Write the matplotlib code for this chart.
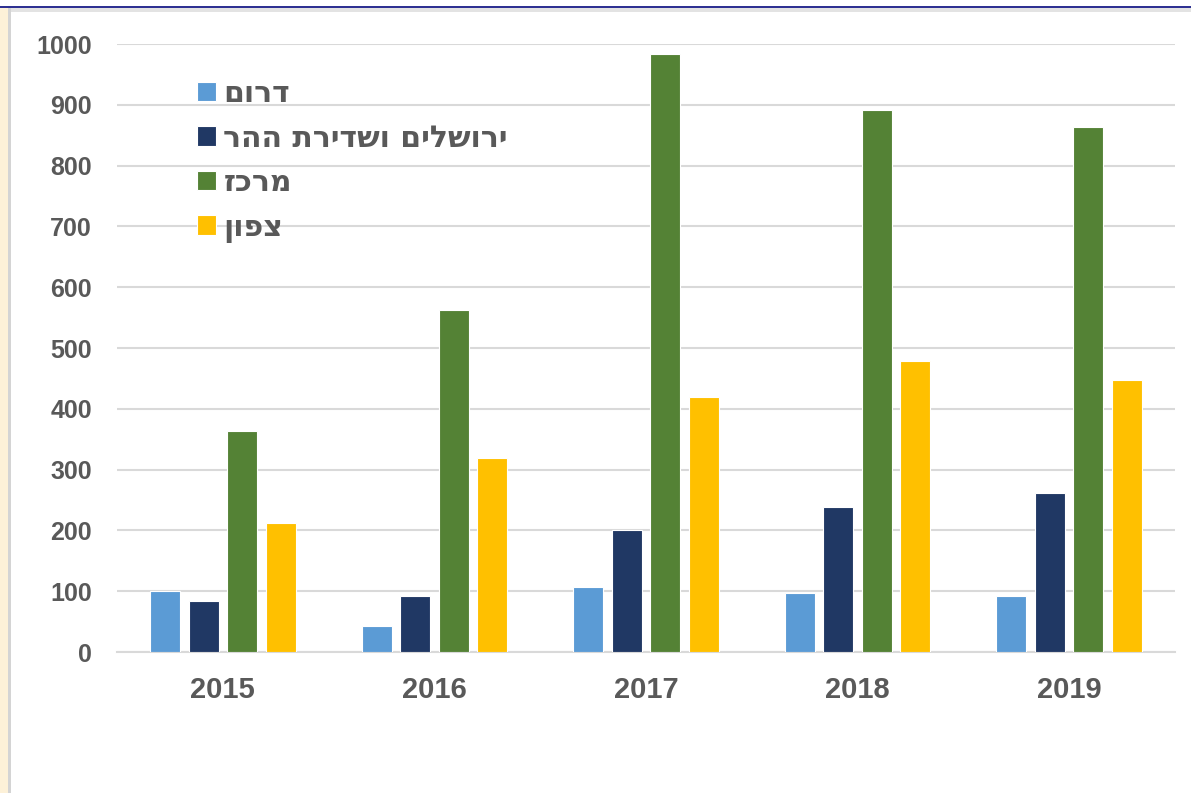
import matplotlib
matplotlib.use("Agg")
import matplotlib.pyplot as plt
from matplotlib.patches import Rectangle
import numpy as np

plt.rcParams['font.family'] = ['Liberation Sans', 'DejaVu Sans']

years = ['2015', '2016', '2017', '2018', '2019']
series_names = ['דרום', 'ירושלים ושדירת ההר', 'מרכז', 'צפון']
south = [100, 43, 107, 97, 92]
jerusalem = [84, 92, 200, 238, 261]
center = [363, 562, 983, 891, 863]
north = [212, 319, 419, 479, 447]
yticks = [0, 100, 200, 300, 400, 500, 600, 700, 800, 900, 1000]

colors = ['#5b9bd5', '#203864', '#548235', '#ffc000']
values = [south, jerusalem, center, north]


def visual(s):
    # matplotlib has no bidi support: reverse for right-to-left display
    return s[::-1]


fig = plt.figure(figsize=(11.91, 7.93), dpi=100, facecolor='white')
ax = fig.add_axes([117 / 1191, 1 - 652 / 793, (1175 - 117) / 1191, (652 - 44) / 793])

# frame decorations
fig.patches.append(Rectangle((0, 0), 8 / 1191, 1 - 8 / 793, transform=fig.transFigure,
                             facecolor='#fdf1d8', edgecolor='none', zorder=0))
fig.patches.append(Rectangle((8 / 1191, 0), 3 / 1191, 1 - 8 / 793, transform=fig.transFigure,
                             facecolor='#d4d4d4', edgecolor='none', zorder=0))
fig.patches.append(Rectangle((11 / 1191, 1 - 12 / 793), 1 - 11 / 1191, 4 / 793, transform=fig.transFigure,
                             facecolor='#e3e3e3', edgecolor='none', zorder=0))
fig.patches.append(Rectangle((0, 1 - 8 / 793), 1, 2 / 793, transform=fig.transFigure,
                             facecolor='#2e3192', edgecolor='none', zorder=0))

x = np.arange(len(years))
width = 0.142
pitch = 0.182
handles = []
for i, (vals, col) in enumerate(zip(values, colors)):
    offs = (i - 1.5) * pitch
    ax.bar(x + offs, vals, width=width, color=col, edgecolor='white', linewidth=0.8, zorder=3)
    handles.append(Rectangle((0, 0), 1, 1, facecolor=col, edgecolor='white', linewidth=0.8))

ax.set_xlim(-0.5, len(years) - 0.5)
ax.set_ylim(0, 1000)
ax.set_yticks(yticks)
ax.set_xticks(x)
ax.set_xticklabels(years)
ax.yaxis.grid(True, color='#d9d9d9', linewidth=1.5, zorder=0)
ax.set_axisbelow(True)
for s in ['top', 'right', 'left']:
    ax.spines[s].set_visible(False)
ax.spines['bottom'].set_color('#d9d9d9')
ax.spines['bottom'].set_linewidth(1.5)
ax.tick_params(axis='both', length=0)
ax.tick_params(axis='y', pad=18, labelsize=18, labelcolor='#595959')
ax.tick_params(axis='x', pad=17, labelsize=21, labelcolor='#595959')
for lab in ax.get_yticklabels() + ax.get_xticklabels():
    lab.set_fontweight('bold')

leg = ax.legend(handles, [visual(n) for n in series_names], loc='upper left',
                bbox_to_anchor=(197 / 1191, 1 - 79 / 793), bbox_transform=fig.transFigure,
                frameon=False, borderpad=0, borderaxespad=0, handlelength=0.63, handleheight=0.63,
                handletextpad=0.25, labelspacing=0.52,
                prop={'family': ['DejaVu Sans'], 'size': 21.5, 'weight': 'bold'})
for t in leg.get_texts():
    t.set_color('#595959')

fig.savefig('out.png', dpi=100, facecolor='white')
